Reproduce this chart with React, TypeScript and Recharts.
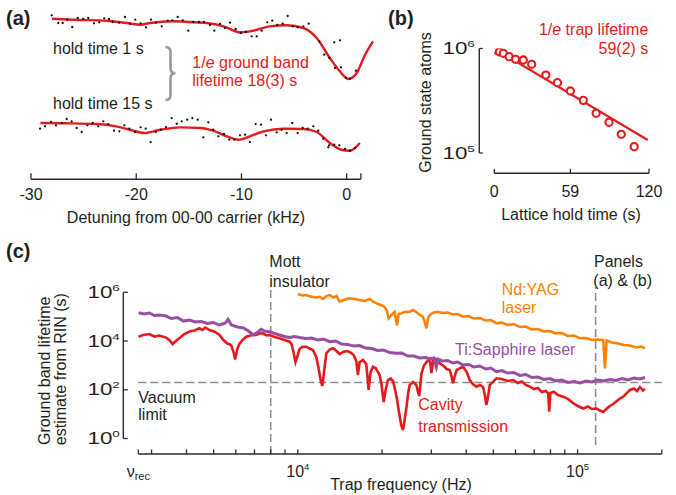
import React from "react";
import { ComposedChart, Line, Scatter, XAxis, YAxis, ReferenceLine } from "recharts";

const W = 676;
const H = 495;
const FONT = '"Liberation Sans", Arial, Helvetica, sans-serif';
const INK = "#231f20";
const AXIS = "#2b2b2b";
const RED = "#e41a1c";
const PURPLE = "#984ea3";
const ORANGE = "#ff7f00";
const GUIDE = "#8c8c8c";

// ---------- (a) carrier spectroscopy, two hold times (normalised signal) ----------
const dots1Detuning = [-28.03, -27.41, -26.99, -26.55, -26.08, -25.56, -25.03, -24.56, -24.01, -23.51, -23.04, -22.59, -22.24, -21.64, -21.07, -20.6, -20.09, -19.58, -19.08, -18.6, -18.13, -17.58, -17.01, -16.57, -16.06, -15.58, -15.05, -14.58, -14.04, -13.56, -12.99, -12.58, -12.04, -11.57, -11.09, -10.55, -10.07, -9.57, -9.03, -8.55, -8.08, -7.55, -7.07, -6.6, -6.08, -5.61, -5.13, -4.66, -4.12, -3.61, -2.6, -2.13, -1.65, -1.18, -1.11, -0.64, -0.54, -0.07, 0.31, 0.88];
const dots1Signal = [1.067, 0.938, 0.938, 0.993, 0.872, 1.022, 1.005, 1.022, 0.933, 0.95, 1.017, 1.005, 0.955, 0.943, 1.038, 0.927, 0.993, 0.933, 0.867, 0.993, 0.943, 0.883, 0.977, 0.983, 1.038, 0.983, 0.81, 0.955, 0.955, 0.955, 0.905, 0.81, 0.922, 0.855, 0.943, 0.838, 0.772, 0.788, 0.717, 0.717, 0.81, 0.95, 0.977, 0.905, 0.927, 1.055, 0.883, 0.867, 0.883, 0.927, 0.633, 0.41, 0.355, 0.617, 0.188, 0.65, 0.2, 0.022, 0.01, 0.143];
const fit1Detuning = [-28.0, -26.0, -22.8, -20.9, -19.6, -18.7, -16.5, -14.9, -13.3, -11.7, -10.1, -8.9, -7.3, -5.7, -4.1, -2.85, -1.6, -0.65, 0.15, 0.95, 1.75, 2.5];
const fit1Signal = [1.01, 0.993, 0.977, 0.938, 0.91, 0.938, 0.967, 0.955, 0.938, 0.883, 0.783, 0.81, 0.883, 0.9, 0.855, 0.688, 0.355, 0.133, 0.005, 0.105, 0.41, 0.633];

const dots15Detuning = [-29.14, -28.67, -28.1, -27.63, -27.08, -26.61, -26.13, -25.66, -25.18, -24.65, -24.14, -23.61, -23.13, -22.66, -22.11, -21.61, -21.13, -20.66, -20.12, -19.58, -19.1, -18.63, -18.15, -17.65, -17.17, -16.63, -16.15, -15.68, -15.15, -14.67, -14.16, -13.63, -13.15, -12.68, -12.2, -11.66, -11.16, -10.68, -10.14, -9.66, -9.19, -8.65, -8.14, -7.67, -7.19, -6.65, -6.18, -5.7, -5.17, -4.66, -4.18, -3.71, -3.17, -2.7, -2.22, -1.75, -1.68, -1.18, -0.7, -0.16, 0.31, 0.79];
const dots15Signal = [0.91, 0.95, 1.022, 0.967, 1.005, 1.072, 1.033, 0.922, 0.855, 0.967, 1.005, 0.95, 1.033, 0.988, 0.877, 0.867, 0.967, 0.91, 0.855, 0.933, 0.91, 0.688, 0.855, 0.893, 0.938, 1.088, 0.993, 1.033, 1.06, 1.088, 1.06, 0.767, 1.017, 0.893, 0.783, 0.822, 0.727, 0.727, 0.8, 0.81, 0.688, 0.988, 0.977, 0.8, 1.06, 0.85, 0.893, 0.838, 1.005, 0.838, 0.922, 0.91, 0.95, 0.877, 0.743, 0.6, 0.633, 0.643, 0.633, 0.572, 0.543, 0.588];
const fit15Detuning = [-29.1, -26.9, -23.8, -21.9, -20.6, -19.2, -17.7, -15.8, -13.9, -12.7, -11.4, -10.3, -9.2, -7.9, -6.0, -4.1, -2.85, -1.6, -0.5, 0.3, 1.25];
const fit15Signal = [1.005, 1.0, 0.988, 0.95, 0.893, 0.838, 0.893, 0.933, 0.922, 0.877, 0.783, 0.727, 0.783, 0.867, 0.91, 0.905, 0.855, 0.672, 0.56, 0.543, 0.672];

const detuningTicks = [-30, -20, -10, 0, 1.35];

// ---------- (b) trap lifetime ----------
const holdTimes = [0, 1.5, 4, 7, 11.5, 16.5, 22.5, 29, 40, 49, 59, 69, 79, 89, 98.5, 108.5];
const groundAtoms = [990000, 967000, 930000, 900000, 836000, 788000, 776000, 706000, 557000, 471000, 392000, 319000, 240000, 197000, 151000, 115000];
const fitHoldTimes = [0, 119];
const fitAtoms = [1000000, 133000];
const holdTicks = [0, 59, 120];
const atomTicks = [100000, 1000000];

// ---------- (c) lifetime estimated from relative intensity noise ----------
const tiSapphFreq = [2690, 2830, 2945, 3070, 3200, 3380, 3530, 3710, 3900, 4100, 4300, 4520, 4750, 4990, 5250, 5510, 5630, 5790, 6090, 6390, 6660, 6910, 7120, 7400, 7600, 7920, 8250, 8600, 8960, 9340, 9730, 10140, 10660, 11200, 11770, 12360, 12990, 13650, 14340, 15060, 15830, 16630, 17470, 18360, 19280, 20260, 21290, 22500, 23500, 24700, 25940, 27260, 28640, 29620, 30600, 31280, 31750, 32960, 34340, 35790, 37290, 38960, 40820, 42540, 44700, 46960, 48950, 51300, 53580, 56290, 59160, 62170, 65300, 68620, 72100, 75750, 79600, 83620, 87870, 92330, 97000, 101900, 107100, 112500, 118200, 124200, 130500, 137100, 144100, 151400, 159100, 167100, 174200];
const tiSapphLife = [145000, 128000, 141000, 111000, 117000, 106000, 84000, 92000, 66000, 72900, 60300, 63200, 52400, 57500, 45400, 54900, 76400, 45400, 37600, 34200, 25800, 18500, 21300, 30300, 25800, 24100, 20400, 17700, 15300, 13900, 15300, 13900, 12700, 13300, 11000, 12100, 9380, 10000, 7550, 7200, 6250, 6550, 5170, 4930, 4080, 4280, 3380, 3130, 3220, 2430, 2430, 2010, 2110, 1830, 2010, 860, 1830, 1510, 1590, 1250, 1380, 1040, 1090, 860, 944, 711, 782, 551, 617, 487, 511, 385, 423, 318, 334, 264, 290, 229, 251, 199, 218, 189, 229, 208, 251, 229, 264, 240, 290, 251, 304, 277, 318];

const ndYagFreq = [10000, 10390, 10720, 11100, 11570, 11960, 12290, 12670, 12990, 13420, 13760, 14100, 14580, 15310, 15960, 16630, 17330, 18060, 18660, 19130, 19770, 20260, 20770, 21110, 21470, 21880, 22190, 22610, 22930, 23450, 24090, 25110, 25800, 26590, 27370, 28010, 28410, 28820, 29240, 29620, 30600, 31620, 32960, 34340, 35790, 37290, 38960, 40820, 42540, 44700, 46960, 48950, 51300, 53580, 56290, 59160, 62170, 65300, 68620, 72100, 75750, 79600, 83620, 87870, 92330, 97000, 101900, 107100, 112500, 118200, 123500, 125250, 127000, 132700, 139400, 146500, 153900, 161700, 168500, 174200];
const ndYagLife = [850000, 738000, 774000, 671000, 611000, 659000, 530000, 703000, 774000, 611000, 703000, 410000, 482000, 566000, 530000, 482000, 439000, 530000, 399000, 353000, 301000, 274000, 187000, 85500, 106000, 137000, 160000, 43300, 128000, 137000, 155000, 160000, 187000, 148000, 117000, 99500, 60300, 33300, 88100, 117000, 148000, 160000, 141000, 148000, 122000, 128000, 99500, 106000, 84000, 88100, 69500, 72900, 53300, 57500, 45400, 49900, 37600, 39400, 29700, 31100, 24600, 25800, 20400, 21300, 16100, 16900, 12900, 13300, 11000, 11500, 11000, 760, 10500, 8700, 7910, 6870, 6550, 5420, 5960, 5030];

const cavityFreq = [2690, 2800, 2945, 3070, 3200, 3380, 3470, 3570, 3665, 3770, 3930, 4100, 4270, 4450, 4560, 4670, 4830, 5030, 5250, 5420, 5600, 5775, 5890, 5970, 6060, 6180, 6340, 6540, 6770, 7100, 7290, 7490, 7730, 7920, 8250, 8600, 8960, 9340, 9500, 9650, 9810, 9975, 10140, 10390, 10720, 11010, 11320, 11640, 11860, 12060, 12230, 12410, 12640, 12990, 13350, 13760, 14100, 14580, 15060, 15440, 15830, 16180, 16400, 16630, 17090, 17570, 17910, 18200, 18550, 18970, 19340, 19600, 19930, 20260, 20600, 21000, 21470, 21880, 22280, 22650, 22990, 23410, 23760, 24090, 24430, 24800, 25110, 25800, 26530, 26890, 27160, 27650, 28180, 28820, 29620, 30040, 30470, 30860, 31620, 32420, 33230, 34060, 34910, 35490, 35880, 36380, 36980, 37910, 38960, 40170, 41160, 42220, 43500, 44700, 45930, 46610, 47180, 47770, 48540, 49230, 51300, 53580, 56290, 58830, 61140, 63180, 65300, 67500, 69760, 72100, 74500, 77000, 78520, 79160, 79930, 82280, 85030, 88800, 92330, 96450, 100250, 104700, 108900, 112500, 116950, 120200, 123500, 127300, 130500, 134100, 138200, 141700, 145650, 150100, 153900, 159100, 163100, 167100, 171300, 174200];
const cavityLife = [15000, 17700, 19400, 15300, 16900, 13900, 11000, 7550, 10000, 12900, 19400, 24600, 27000, 33300, 28300, 35900, 28300, 24600, 17700, 11000, 7910, 6870, 3540, 1745, 4280, 7550, 11000, 15000, 16900, 17700, 20400, 20700, 16900, 17700, 14600, 12900, 11000, 9380, 7550, 3540, 1380, 2430, 4710, 5850, 5850, 4930, 4280, 2210, 782, 251, 143, 535, 3130, 4490, 5030, 3890, 2930, 3650, 3890, 3380, 2670, 1510, 403, 1380, 1660, 1140, 98, 535, 884, 782, 535, 403, 157, 31, 98, 251, 290, 229, 98, 38, 12.2, 3.6, 2.2, 5.7, 17.9, 74, 157, 208, 157, 81, 55, 443, 944, 1380, 1830, 487, 1660, 1950, 1510, 1140, 944, 711, 647, 334, 184, 367, 647, 760, 884, 535, 251, 172, 134, 157, 130, 61, 24, 46, 157, 184, 295, 277, 229, 251, 189, 218, 157, 134, 107, 118, 81, 89, 72, 12.6, 74, 83, 61, 52, 42, 28, 21.6, 17, 20.6, 16.2, 17, 14.1, 12.2, 17, 21.6, 26, 34.6, 43.8, 52, 74, 98, 113, 89, 130, 93, 107];

const vacuumLimit = 200;
const mottFreq = 8000;
const panelsFreq = 116000;
const trapTicks = [2690, 3000, 4000, 5000, 6000, 7000, 8000, 9000, 10000, 20000, 30000, 40000, 50000, 60000, 70000, 80000, 90000, 100000, 200000];
const lifeTicks = [1, 100, 10000, 1000000];

// ---------- helpers ----------
const pairs = (xs: number[], ys: number[], kx: string, ky: string) =>
  xs.map((x, i) => ({ [kx]: x, [ky]: ys[i] }));

const dots1 = pairs(dots1Detuning, dots1Signal, "d", "s");
const fit1 = pairs(fit1Detuning, fit1Signal, "d", "s");
const dots15 = pairs(dots15Detuning, dots15Signal, "d", "s");
const fit15 = pairs(fit15Detuning, fit15Signal, "d", "s");
const atoms = pairs(holdTimes, groundAtoms, "t", "n");
const atomsFit = pairs(fitHoldTimes, fitAtoms, "t", "n");
const tiSapph = pairs(tiSapphFreq, tiSapphLife, "f", "life");
const ndYag = pairs(ndYagFreq, ndYagLife, "f", "life");
const cavity = pairs(cavityFreq, cavityLife, "f", "life");

const Layer = ({ children }: { children: React.ReactNode }) => (
  <div style={{ position: "absolute", left: 0, top: 0, width: W, height: H }}>{children}</div>
);

const txt = { fontFamily: FONT, fill: INK } as const;

const Pow10 = ({ exp }: { exp: number }) => (
  <>
    <tspan>10</tspan>
    <tspan dy={-7} fontSize="0.6em">{exp}</tspan>
  </>
);

// bottom axis ticks point up into the plot, labels below
const makeXTick = (len: number, labelDy: number, label: (v: number) => React.ReactNode) => (p: any) => {
  const { x, y, payload } = p;
  const content = label(payload.value);
  return (
    <g>
      <line x1={x} x2={x} y1={y} y2={y - len} stroke={AXIS} strokeWidth={1.3} />
      {content !== null && (
        <text x={x} y={y + labelDy} textAnchor="middle" fontSize={16} {...txt}>
          {content}
        </text>
      )}
    </g>
  );
};

// left axis ticks point right into the plot, powers of ten stretched like the printed labels
const makeYTick = (len: number, gap: number) => (p: any) => {
  const { x, y, payload } = p;
  const exp = Math.round(Math.log10(payload.value));
  return (
    <g>
      <line x1={x} x2={x + len} y1={y} y2={y} stroke={AXIS} strokeWidth={1.3} />
      <g transform={`translate(${x - gap},${y + 5.5}) scale(1.4,1)`}>
        <text x={0} y={0} textAnchor="end" fontSize={16} {...txt}>
          <Pow10 exp={exp} />
        </text>
      </g>
    </g>
  );
};

const detuningTick = makeXTick(6, 20.7, (v) => (v > 0.5 ? null : String(v)));
const holdTick = makeXTick(4.5, 23.4, (v) => String(v));
const trapTick = makeXTick(4.5, 22.7, (v) => {
  if (v === 2690)
    return (
      <>
        <tspan>ν</tspan>
        <tspan fontSize={11} dy={3}>rec</tspan>
      </>
    );
  if (v === 10000) return <Pow10 exp={4} />;
  if (v === 100000) return <Pow10 exp={5} />;
  return null;
});

const SmallDot = (p: any) => <circle cx={p.cx} cy={p.cy} r={1.15} fill="#111" />;
const RingDot = (p: any) => <circle cx={p.cx} cy={p.cy} r={3.6} fill="#fff" stroke={RED} strokeWidth={2.1} />;

const axisLine = { stroke: AXIS, strokeWidth: 1.4 };

export default function App() {
  return (
    <div style={{ position: "absolute", left: 0, top: 0, width: W, height: H, background: "#fff", fontFamily: FONT }}>
      {/* (a) data */}
      <Layer>
        <ComposedChart width={W} height={H} margin={{ top: 10, bottom: H - 170, left: 31, right: W - 375.1 }}>
          <XAxis type="number" dataKey="d" domain={[-30, 2.7]} hide allowDataOverflow />
          <YAxis yAxisId="hold1" type="number" dataKey="s" domain={[-1.512, 1.155]} hide allowDataOverflow />
          <YAxis yAxisId="hold15" type="number" dataKey="s" domain={[0.222, 2.888]} hide allowDataOverflow />
          <Scatter yAxisId="hold1" data={dots1} dataKey="s" shape={SmallDot} isAnimationActive={false} />
          <Scatter yAxisId="hold15" data={dots15} dataKey="s" shape={SmallDot} isAnimationActive={false} />
          <Line yAxisId="hold1" data={fit1} dataKey="s" type="monotone" stroke={RED} strokeWidth={2.4} dot={false} isAnimationActive={false} />
          <Line yAxisId="hold15" data={fit15} dataKey="s" type="monotone" stroke={RED} strokeWidth={2.4} dot={false} isAnimationActive={false} />
        </ComposedChart>
      </Layer>
      {/* (a) detuning axis */}
      <Layer>
        <ComposedChart width={W} height={H} margin={{ top: 100, bottom: H - 179.3 - 30, left: 31, right: W - 360.9 }}>
          <XAxis type="number" dataKey="d" domain={[-30, 1.35]} ticks={detuningTicks} interval={0} height={30} tickSize={0} tickMargin={0} tickLine={false} axisLine={axisLine} tick={detuningTick} allowDataOverflow />
          <YAxis type="number" domain={[0, 1]} hide />
        </ComposedChart>
      </Layer>

      {/* (b) data */}
      <Layer>
        <ComposedChart width={W} height={H} margin={{ top: 48.5, bottom: H - 153, left: 494.3, right: W - 649 }}>
          <XAxis type="number" dataKey="t" domain={[0, 120]} hide allowDataOverflow />
          <YAxis type="number" dataKey="n" scale="log" domain={[100000, 1000000]} hide allowDataOverflow />
          <Line data={atomsFit} dataKey="n" type="linear" stroke={RED} strokeWidth={2.2} dot={false} isAnimationActive={false} />
          <Scatter data={atoms} dataKey="n" shape={RingDot} isAnimationActive={false} />
        </ComposedChart>
      </Layer>
      <Layer>
        <ComposedChart width={W} height={H} margin={{ top: 100, bottom: H - 173.3 - 30, left: 494.3, right: W - 649 }}>
          <XAxis type="number" dataKey="t" domain={[0, 120]} ticks={holdTicks} interval={0} height={30} tickSize={0} tickMargin={0} tickLine={false} axisLine={axisLine} tick={holdTick} allowDataOverflow />
          <YAxis type="number" domain={[0, 1]} hide />
        </ComposedChart>
      </Layer>
      <Layer>
        <ComposedChart width={W} height={H} margin={{ top: 48.5, bottom: H - 153, left: 479.3 - 60, right: 20 }}>
          <XAxis type="number" domain={[0, 1]} hide />
          <YAxis type="number" scale="log" domain={[100000, 1000000]} ticks={atomTicks} interval={0} width={60} tickSize={0} tickMargin={0} tickLine={false} axisLine={axisLine} tick={makeYTick(3.5, 4.5)} allowDataOverflow />
        </ComposedChart>
      </Layer>

      {/* (c) data */}
      <Layer>
        <ComposedChart width={W} height={H} margin={{ top: 292.3, bottom: H - 438.5, left: 138.3, right: W - 661.8 }}>
          <XAxis type="number" dataKey="f" scale="log" domain={[2690, 200000]} hide allowDataOverflow />
          <YAxis type="number" scale="log" domain={[1, 1000000]} hide allowDataOverflow />
          <ReferenceLine y={vacuumLimit} stroke={GUIDE} strokeWidth={1.6} strokeDasharray="8 4" />
          <ReferenceLine segment={[{ x: mottFreq, y: 0.23 }, { x: mottFreq, y: 1240000 }]} ifOverflow="visible" stroke={GUIDE} strokeWidth={1.6} strokeDasharray="8 4" />
          <ReferenceLine segment={[{ x: panelsFreq, y: 0.54 }, { x: panelsFreq, y: 1650000 }]} ifOverflow="visible" stroke={GUIDE} strokeWidth={1.6} strokeDasharray="8 4" />
          <Line data={ndYag} dataKey="life" type="linear" stroke={ORANGE} strokeWidth={2.5} dot={false} isAnimationActive={false} />
          <Line data={cavity} dataKey="life" type="linear" stroke={RED} strokeWidth={2.6} dot={false} isAnimationActive={false} />
          <Line data={tiSapph} dataKey="life" type="linear" stroke={PURPLE} strokeWidth={3} dot={false} isAnimationActive={false} />
        </ComposedChart>
      </Layer>
      <Layer>
        <ComposedChart width={W} height={H} margin={{ top: 400, bottom: H - 454 - 30, left: 138.3, right: W - 661.8 }}>
          <XAxis type="number" dataKey="f" scale="log" domain={[2690, 200000]} ticks={trapTicks} interval={0} height={30} tickSize={0} tickMargin={0} tickLine={false} axisLine={axisLine} tick={trapTick} allowDataOverflow />
          <YAxis type="number" domain={[0, 1]} hide />
        </ComposedChart>
      </Layer>
      <Layer>
        <ComposedChart width={W} height={H} margin={{ top: 292.3, bottom: H - 438.5, left: 123.3 - 60, right: 20 }}>
          <XAxis type="number" domain={[0, 1]} hide />
          <YAxis type="number" scale="log" domain={[1, 1000000]} ticks={lifeTicks} interval={0} width={60} tickSize={0} tickMargin={0} tickLine={false} axisLine={axisLine} tick={makeYTick(4.5, 3.5)} allowDataOverflow />
        </ComposedChart>
      </Layer>

      {/* panel letters, titles and annotations */}
      <svg width={W} height={H} style={{ position: "absolute", left: 0, top: 0, pointerEvents: "none" }}>
        <text x={6} y={25} fontSize={20} fontWeight="bold" {...txt}>(a)</text>
        <text x={388} y={25} fontSize={20} fontWeight="bold" {...txt}>(b)</text>
        <text x={6} y={258} fontSize={20} fontWeight="bold" {...txt}>(c)</text>

        <text x={53} y={54} fontSize={16} {...txt}>hold time 1 s</text>
        <text x={53} y={109.3} fontSize={16} {...txt}>hold time 15 s</text>
        <path d="M165.5,47 Q170.5,47 170.5,52 L170.5,68 Q170.5,73.3 175.5,73.3 Q170.5,73.3 170.5,78.6 L170.5,95 Q170.5,100 165.5,100" fill="none" stroke="#9a9a9a" strokeWidth={2.6} />
        <text x={192.3} y={68.3} fontSize={16} fontFamily={FONT} fill={RED}>1/<tspan fontStyle="italic">e</tspan> ground band</text>
        <text x={192.3} y={86.3} fontSize={16} fontFamily={FONT} fill={RED}>lifetime 18(3) s</text>
        <text x={186} y={223} fontSize={16} textAnchor="middle" {...txt}>Detuning from 00-00 carrier (kHz)</text>

        <text x={648.3} y={35} fontSize={16} textAnchor="end" fontFamily={FONT} fill={RED}>1/<tspan fontStyle="italic">e</tspan> trap lifetime</text>
        <text x={648.3} y={54} fontSize={16} textAnchor="end" fontFamily={FONT} fill={RED}>59(2) s</text>
        <text transform="translate(430.5,102.5) rotate(-90)" fontSize={16} textAnchor="middle" {...txt}>Ground state atoms</text>
        <text x={571} y={220} fontSize={16} textAnchor="middle" {...txt}>Lattice hold time (s)</text>

        <text transform="translate(49.5,370.8) rotate(-90)" fontSize={16} textAnchor="middle" {...txt}>Ground band lifetime</text>
        <text transform="translate(66,369.2) rotate(-90)" fontSize={16} textAnchor="middle" {...txt}>estimate from RIN (s)</text>
        <text x={269.3} y={266.7} fontSize={16} {...txt}>Mott</text>
        <text x={269.3} y={286.7} fontSize={16} {...txt}>insulator</text>
        <text x={594} y={267.3} fontSize={16} {...txt}>Panels</text>
        <text x={593.3} y={285.5} fontSize={16} {...txt}>(a) &amp; (b)</text>
        <text x={138.3} y={402.7} fontSize={16} {...txt}>Vacuum</text>
        <text x={138.3} y={420} fontSize={16} {...txt}>limit</text>
        <text x={501.7} y={295} fontSize={16} fontFamily={FONT} fill={ORANGE}>Nd:YAG</text>
        <text x={501.7} y={313.3} fontSize={16} fontFamily={FONT} fill={ORANGE}>laser</text>
        <text x={455} y={355} fontSize={16} fontFamily={FONT} fill={PURPLE}>Ti:Sapphire laser</text>
        <text x={418.3} y={410} fontSize={16} fontFamily={FONT} fill={RED}>Cavity</text>
        <text x={418.3} y={431.7} fontSize={16} fontFamily={FONT} fill={RED}>transmission</text>
        <text x={401} y={490} fontSize={16} textAnchor="middle" {...txt}>Trap frequency (Hz)</text>
      </svg>
    </div>
  );
}
